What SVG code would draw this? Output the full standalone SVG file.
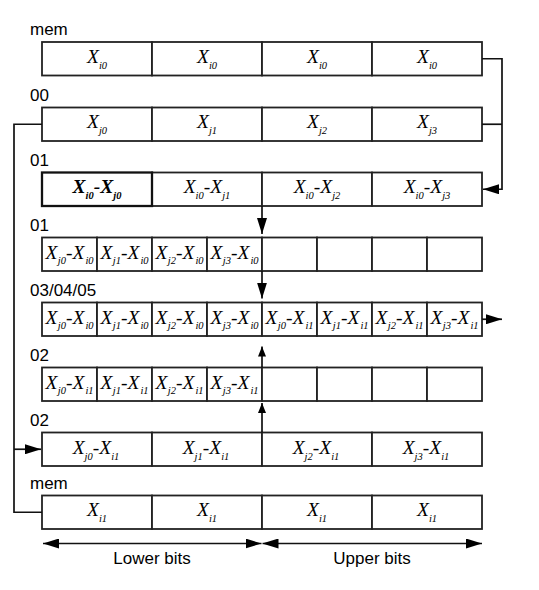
<svg xmlns="http://www.w3.org/2000/svg" width="539" height="590" viewBox="0 0 539 590">
<style>
.c{fill:#fff;stroke:#222;stroke-width:1.8}
.cb{fill:#fff;stroke:#111;stroke-width:2.3}
.lbl{font-family:"Liberation Sans",Arial,sans-serif;font-size:17px;fill:#000}
.m{font-family:"Liberation Serif","Times New Roman",serif;font-style:italic;font-size:19.5px;fill:#000;text-anchor:middle}
.b{font-weight:bold}
.s{font-size:10.5px}
.ln{fill:none;stroke:#111;stroke-width:1.7}
</style>
<defs>
<marker id="ah" viewBox="0 0 16 10" refX="16" refY="5" markerWidth="16" markerHeight="10" markerUnits="userSpaceOnUse" orient="auto-start-reverse"><path d="M0,0 L16,5 L0,10 z" fill="#000"/></marker>
<marker id="as" viewBox="0 0 10 8" refX="10" refY="4" markerWidth="10" markerHeight="8" markerUnits="userSpaceOnUse" orient="auto"><path d="M0,0 L10,4 L0,8 z" fill="#000"/></marker>
</defs>
<rect width="539" height="590" fill="#fff"/>

<g id="row-mem-top">
<text class="lbl" x="30" y="35">mem</text>
<rect class="c" x="42" y="42" width="110" height="33.5"/><rect class="c" x="152" y="42" width="110" height="33.5"/><rect class="c" x="262" y="42" width="110" height="33.5"/><rect class="c" x="372" y="42" width="110" height="33.5"/>
<text class="m" x="97" y="62.5">X<tspan class="s" dy="6">i0</tspan></text>
<text class="m" x="207" y="62.5">X<tspan class="s" dy="6">i0</tspan></text>
<text class="m" x="317" y="62.5">X<tspan class="s" dy="6">i0</tspan></text>
<text class="m" x="427" y="62.5">X<tspan class="s" dy="6">i0</tspan></text>
</g>

<g id="row-00">
<text class="lbl" x="30" y="100.5">00</text>
<rect class="c" x="42" y="107.5" width="110" height="33.5"/><rect class="c" x="152" y="107.5" width="110" height="33.5"/><rect class="c" x="262" y="107.5" width="110" height="33.5"/><rect class="c" x="372" y="107.5" width="110" height="33.5"/>
<text class="m" x="97" y="128">X<tspan class="s" dy="6">j0</tspan></text>
<text class="m" x="207" y="128">X<tspan class="s" dy="6">j1</tspan></text>
<text class="m" x="317" y="128">X<tspan class="s" dy="6">j2</tspan></text>
<text class="m" x="427" y="128">X<tspan class="s" dy="6">j3</tspan></text>
</g>

<g id="row-01a">
<text class="lbl" x="30" y="165.5">01</text>
<rect class="c" x="152" y="172.5" width="110" height="33.5"/><rect class="c" x="262" y="172.5" width="110" height="33.5"/><rect class="c" x="372" y="172.5" width="110" height="33.5"/>
<rect class="cb" x="42" y="172.5" width="110" height="33.5"/>
<text class="m b" x="97" y="193">X<tspan class="s" dy="6">i0</tspan><tspan dy="-6">-X</tspan><tspan class="s" dy="6">j0</tspan></text>
<text class="m" x="207" y="193">X<tspan class="s" dy="6">i0</tspan><tspan dy="-6">-X</tspan><tspan class="s" dy="6">j1</tspan></text>
<text class="m" x="317" y="193">X<tspan class="s" dy="6">i0</tspan><tspan dy="-6">-X</tspan><tspan class="s" dy="6">j2</tspan></text>
<text class="m" x="427" y="193">X<tspan class="s" dy="6">i0</tspan><tspan dy="-6">-X</tspan><tspan class="s" dy="6">j3</tspan></text>
</g>

<g id="row-01b">
<text class="lbl" x="30" y="230.5">01</text>
<rect class="c" x="42" y="237.5" width="55" height="33.5"/><rect class="c" x="97" y="237.5" width="55" height="33.5"/><rect class="c" x="152" y="237.5" width="55" height="33.5"/><rect class="c" x="207" y="237.5" width="55" height="33.5"/>
<rect class="c" x="262" y="237.5" width="55" height="33.5"/><rect class="c" x="317" y="237.5" width="55" height="33.5"/><rect class="c" x="372" y="237.5" width="55" height="33.5"/><rect class="c" x="427" y="237.5" width="55" height="33.5"/>
<text class="m" x="69.5" y="258.5">X<tspan class="s" dy="5" dx="0.5">j0</tspan><tspan dy="-5">-X</tspan><tspan class="s" dy="5" dx="1">i0</tspan></text>
<text class="m" x="124.5" y="258.5">X<tspan class="s" dy="5" dx="0.5">j1</tspan><tspan dy="-5">-X</tspan><tspan class="s" dy="5" dx="1">i0</tspan></text>
<text class="m" x="179.5" y="258.5">X<tspan class="s" dy="5" dx="0.5">j2</tspan><tspan dy="-5">-X</tspan><tspan class="s" dy="5" dx="1">i0</tspan></text>
<text class="m" x="234.5" y="258.5">X<tspan class="s" dy="5" dx="0.5">j3</tspan><tspan dy="-5">-X</tspan><tspan class="s" dy="5" dx="1">i0</tspan></text>
</g>

<g id="row-030405">
<text class="lbl" x="30" y="296">03/04/05</text>
<rect class="c" x="42" y="302.5" width="55" height="33.5"/><rect class="c" x="97" y="302.5" width="55" height="33.5"/><rect class="c" x="152" y="302.5" width="55" height="33.5"/><rect class="c" x="207" y="302.5" width="55" height="33.5"/>
<rect class="c" x="262" y="302.5" width="55" height="33.5"/><rect class="c" x="317" y="302.5" width="55" height="33.5"/><rect class="c" x="372" y="302.5" width="55" height="33.5"/><rect class="c" x="427" y="302.5" width="55" height="33.5"/>
<text class="m" x="69.5" y="323.5">X<tspan class="s" dy="5" dx="0.5">j0</tspan><tspan dy="-5">-X</tspan><tspan class="s" dy="5" dx="1">i0</tspan></text>
<text class="m" x="124.5" y="323.5">X<tspan class="s" dy="5" dx="0.5">j1</tspan><tspan dy="-5">-X</tspan><tspan class="s" dy="5" dx="1">i0</tspan></text>
<text class="m" x="179.5" y="323.5">X<tspan class="s" dy="5" dx="0.5">j2</tspan><tspan dy="-5">-X</tspan><tspan class="s" dy="5" dx="1">i0</tspan></text>
<text class="m" x="234.5" y="323.5">X<tspan class="s" dy="5" dx="0.5">j3</tspan><tspan dy="-5">-X</tspan><tspan class="s" dy="5" dx="1">i0</tspan></text>
<text class="m" x="289.5" y="323.5">X<tspan class="s" dy="5" dx="0.5">j0</tspan><tspan dy="-5">-X</tspan><tspan class="s" dy="5" dx="1">i1</tspan></text>
<text class="m" x="344.5" y="323.5">X<tspan class="s" dy="5" dx="0.5">j1</tspan><tspan dy="-5">-X</tspan><tspan class="s" dy="5" dx="1">i1</tspan></text>
<text class="m" x="399.5" y="323.5">X<tspan class="s" dy="5" dx="0.5">j2</tspan><tspan dy="-5">-X</tspan><tspan class="s" dy="5" dx="1">i1</tspan></text>
<text class="m" x="454.5" y="323.5">X<tspan class="s" dy="5" dx="0.5">j3</tspan><tspan dy="-5">-X</tspan><tspan class="s" dy="5" dx="1">i1</tspan></text>
</g>

<g id="row-02a">
<text class="lbl" x="30" y="361">02</text>
<rect class="c" x="42" y="367.5" width="55" height="33.5"/><rect class="c" x="97" y="367.5" width="55" height="33.5"/><rect class="c" x="152" y="367.5" width="55" height="33.5"/><rect class="c" x="207" y="367.5" width="55" height="33.5"/>
<rect class="c" x="262" y="367.5" width="55" height="33.5"/><rect class="c" x="317" y="367.5" width="55" height="33.5"/><rect class="c" x="372" y="367.5" width="55" height="33.5"/><rect class="c" x="427" y="367.5" width="55" height="33.5"/>
<text class="m" x="69.5" y="388.5">X<tspan class="s" dy="5" dx="0.5">j0</tspan><tspan dy="-5">-X</tspan><tspan class="s" dy="5" dx="1">i1</tspan></text>
<text class="m" x="124.5" y="388.5">X<tspan class="s" dy="5" dx="0.5">j1</tspan><tspan dy="-5">-X</tspan><tspan class="s" dy="5" dx="1">i1</tspan></text>
<text class="m" x="179.5" y="388.5">X<tspan class="s" dy="5" dx="0.5">j2</tspan><tspan dy="-5">-X</tspan><tspan class="s" dy="5" dx="1">i1</tspan></text>
<text class="m" x="234.5" y="388.5">X<tspan class="s" dy="5" dx="0.5">j3</tspan><tspan dy="-5">-X</tspan><tspan class="s" dy="5" dx="1">i1</tspan></text>
</g>

<g id="row-02b">
<text class="lbl" x="30" y="426">02</text>
<rect class="c" x="42" y="432.5" width="110" height="33.5"/><rect class="c" x="152" y="432.5" width="110" height="33.5"/><rect class="c" x="262" y="432.5" width="110" height="33.5"/><rect class="c" x="372" y="432.5" width="110" height="33.5"/>
<text class="m" x="96" y="453.5">X<tspan class="s" dy="6">j0</tspan><tspan dy="-6">-X</tspan><tspan class="s" dy="6">i1</tspan></text>
<text class="m" x="206" y="453.5">X<tspan class="s" dy="6">j1</tspan><tspan dy="-6">-X</tspan><tspan class="s" dy="6">i1</tspan></text>
<text class="m" x="316" y="453.5">X<tspan class="s" dy="6">j2</tspan><tspan dy="-6">-X</tspan><tspan class="s" dy="6">i1</tspan></text>
<text class="m" x="426" y="453.5">X<tspan class="s" dy="6">j3</tspan><tspan dy="-6">-X</tspan><tspan class="s" dy="6">i1</tspan></text>
</g>

<g id="row-mem-bottom">
<text class="lbl" x="30" y="489">mem</text>
<rect class="c" x="42" y="495.5" width="110" height="33.5"/><rect class="c" x="152" y="495.5" width="110" height="33.5"/><rect class="c" x="262" y="495.5" width="110" height="33.5"/><rect class="c" x="372" y="495.5" width="110" height="33.5"/>
<text class="m" x="97" y="516">X<tspan class="s" dy="6">i1</tspan></text>
<text class="m" x="207" y="516">X<tspan class="s" dy="6">i1</tspan></text>
<text class="m" x="317" y="516">X<tspan class="s" dy="6">i1</tspan></text>
<text class="m" x="427" y="516">X<tspan class="s" dy="6">i1</tspan></text>
</g>

<g id="connectors">
<polyline class="ln" points="482,58.75 502,58.75 502,189.25 483,189.25" marker-end="url(#ah)"/>
<line class="ln" x1="482" y1="124.25" x2="502" y2="124.25"/>
<polyline class="ln" points="42,124.25 14,124.25 14,512.25 42,512.25"/>
<line class="ln" x1="14" y1="449.25" x2="41" y2="449.25" marker-end="url(#ah)"/>
<line class="ln" x1="262" y1="206" x2="262" y2="234" marker-end="url(#ah)"/>
<line class="ln" x1="262" y1="271" x2="262" y2="298.5" marker-end="url(#ah)"/>
<line class="ln" x1="262" y1="367.5" x2="262" y2="346.5" marker-end="url(#as)"/>
<line class="ln" x1="262" y1="432.5" x2="262" y2="403" marker-end="url(#as)"/>
<line class="ln" x1="482" y1="319.25" x2="502" y2="319.25" marker-end="url(#ah)"/>
<line class="ln" x1="43" y1="543.5" x2="261.5" y2="543.5" marker-start="url(#ah)" marker-end="url(#ah)"/>
<line class="ln" x1="262.5" y1="543.5" x2="482" y2="543.5" marker-start="url(#ah)" marker-end="url(#ah)"/>
</g>
<g id="axis-labels">
<text class="lbl" x="152" y="564" text-anchor="middle">Lower bits</text>
<text class="lbl" x="372" y="564" text-anchor="middle">Upper bits</text>
</g>
</svg>
